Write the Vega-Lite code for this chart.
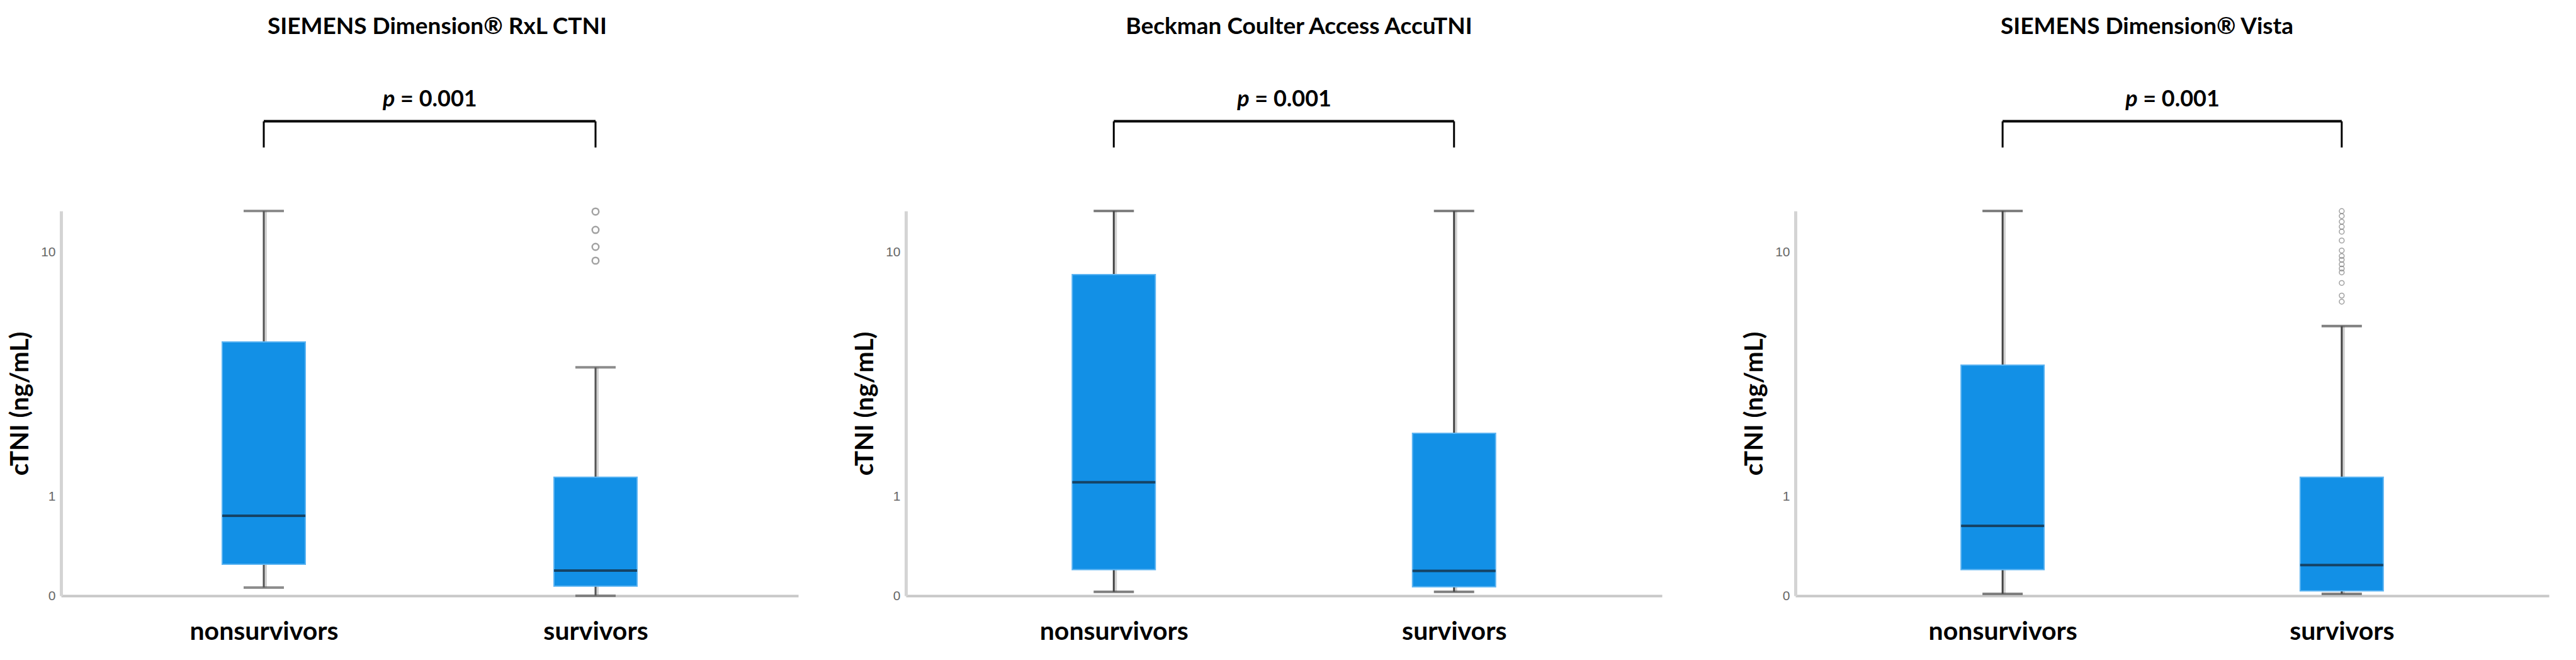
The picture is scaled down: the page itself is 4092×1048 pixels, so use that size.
{
"$schema": "https://vega.github.io/schema/vega-lite/v6.json",
"background": "white",
"padding": {"left": 12, "top": 24, "right": 5, "bottom": 5},
"config": {
  "view": {"stroke": null},
  "font": "Lato",
  "title": {"font": "Lato", "fontSize": 37, "fontWeight": "bold", "color": "#000000", "anchor": "middle", "offset": 78},
  "axisY": {"grid": false, "ticks": false, "tickSize": 0, "domainColor": "#d4d4d4", "domainWidth": 5, "labelFont": "Liberation Sans", "labelFontSize": 21, "labelColor": "#666666", "labelPadding": 9, "titleFont": "Lato", "titleFontSize": 40, "titleFontWeight": "bold", "titleColor": "#000000", "titlePadding": 12},
  "axisX": {"grid": false, "ticks": false, "tickSize": 0, "domainColor": "#c8c8c8", "domainWidth": 4, "labelFont": "Lato", "labelFontSize": 41, "labelFontWeight": "bold", "labelColor": "#000000", "labelPadding": 37, "labelAngle": 0, "labelLimit": 0}
},
"datasets": {
  "boxes": [
    {"assay": "RxL", "group": "nonsurvivors", "lower": 0.059, "q1": 0.246, "median": 0.748, "q3": 4.89, "upper": 13.7},
    {"assay": "RxL", "group": "survivors", "lower": 0.0, "q1": 0.069, "median": 0.193, "q3": 1.29, "upper": 3.93},
    {"assay": "Access", "group": "nonsurvivors", "lower": 0.028, "q1": 0.2, "median": 1.21, "q3": 8.43, "upper": 13.7},
    {"assay": "Access", "group": "survivors", "lower": 0.028, "q1": 0.065, "median": 0.19, "q3": 2.11, "upper": 13.7},
    {"assay": "Vista", "group": "nonsurvivors", "lower": 0.013, "q1": 0.2, "median": 0.63, "q3": 4.01, "upper": 13.7},
    {"assay": "Vista", "group": "survivors", "lower": 0.013, "q1": 0.035, "median": 0.239, "q3": 1.29, "upper": 5.58}
  ],
  "outliers": [
    {"assay": "RxL", "group": "survivors", "value": 13.64},
    {"assay": "RxL", "group": "survivors", "value": 11.88},
    {"assay": "RxL", "group": "survivors", "value": 10.44},
    {"assay": "RxL", "group": "survivors", "value": 9.39},
    {"assay": "Vista", "group": "survivors", "value": 13.69},
    {"assay": "Vista", "group": "survivors", "value": 13.19},
    {"assay": "Vista", "group": "survivors", "value": 12.64},
    {"assay": "Vista", "group": "survivors", "value": 12.17},
    {"assay": "Vista", "group": "survivors", "value": 11.72},
    {"assay": "Vista", "group": "survivors", "value": 10.96},
    {"assay": "Vista", "group": "survivors", "value": 10.15},
    {"assay": "Vista", "group": "survivors", "value": 9.73},
    {"assay": "Vista", "group": "survivors", "value": 9.45},
    {"assay": "Vista", "group": "survivors", "value": 9.13},
    {"assay": "Vista", "group": "survivors", "value": 8.83},
    {"assay": "Vista", "group": "survivors", "value": 8.57},
    {"assay": "Vista", "group": "survivors", "value": 7.89},
    {"assay": "Vista", "group": "survivors", "value": 7.14},
    {"assay": "Vista", "group": "survivors", "value": 6.8}
  ],
  "tests": [
    {"assay": "RxL", "from": "nonsurvivors", "to": "survivors", "label": "= 0.001"},
    {"assay": "Access", "from": "nonsurvivors", "to": "survivors", "label": "= 0.001"},
    {"assay": "Vista", "from": "nonsurvivors", "to": "survivors", "label": "= 0.001"}
  ]
},
"spacing": 127,
"hconcat": [
 {"spacing": 86, "hconcat": [
  {
   "width": 1171, "height": 611,
   "title": {"text": "SIEMENS Dimension® RxL CTNI", "dx": 12},
   "layer": [
    {"data": {"name": "boxes"}, "transform": [{"filter": {"field": "assay", "equal": "RxL"}}],
     "encoding": {"x": {"field": "group", "type": "nominal", "title": null, "scale": {"type": "point", "padding": 0.611, "domain": ["nonsurvivors", "survivors"]}}},
     "layer": [
      {"mark": {"type": "rule", "color": "#d2d2d2", "strokeWidth": 4, "xOffset": 3}, "encoding": {"y": {"field": "lower", "type": "quantitative", "title": "cTNI (ng/mL)", "scale": {"type": "symlog", "constant": 1, "domain": [0, 13.7], "nice": false}, "axis": {"values": [0, 1, 10], "format": "d"}}, "y2": {"field": "upper"}}},
      {"mark": {"type": "rule", "color": "#555555", "strokeWidth": 3}, "encoding": {"y": {"field": "lower", "type": "quantitative", "title": "cTNI (ng/mL)"}, "y2": {"field": "upper"}}},
      {"mark": {"type": "tick", "color": "#5c5c5c", "thickness": 4, "size": 64}, "encoding": {"y": {"field": "lower", "type": "quantitative", "title": "cTNI (ng/mL)"}}},
      {"mark": {"type": "tick", "color": "#5c5c5c", "thickness": 4, "size": 64}, "encoding": {"y": {"field": "upper", "type": "quantitative", "title": "cTNI (ng/mL)"}}},
      {"mark": {"type": "bar", "width": 132, "fill": "#1290e6", "stroke": "#5cb4f2", "strokeWidth": 2}, "encoding": {"y": {"field": "q1", "type": "quantitative", "title": "cTNI (ng/mL)"}, "y2": {"field": "q3"}}},
      {"mark": {"type": "tick", "color": "#17222d", "thickness": 4, "size": 132}, "encoding": {"y": {"field": "median", "type": "quantitative", "title": "cTNI (ng/mL)"}}}
     ]},
    {"data": {"name": "outliers"}, "transform": [{"filter": {"field": "assay", "equal": "RxL"}}],
     "mark": {"type": "point", "shape": "circle", "filled": false, "color": "#7a7a7a", "strokeWidth": 2.5, "size": 110},
     "encoding": {"x": {"field": "group", "type": "nominal", "title": null}, "y": {"field": "value", "type": "quantitative", "title": "cTNI (ng/mL)"}}},
    {"data": {"name": "tests"}, "transform": [{"filter": {"field": "assay", "equal": "RxL"}}],
     "layer": [
      {"mark": {"type": "rule", "color": "#000000", "strokeWidth": 4}, "encoding": {"x": {"field": "from", "type": "nominal", "title": null}, "x2": {"field": "to"}, "y": {"datum": 26.5}}},
      {"mark": {"type": "rule", "color": "#000000", "strokeWidth": 3}, "encoding": {"x": {"field": "from", "type": "nominal", "title": null}, "y": {"datum": 21.9}, "y2": {"datum": 26.5}}},
      {"mark": {"type": "rule", "color": "#000000", "strokeWidth": 3}, "encoding": {"x": {"field": "to", "type": "nominal", "title": null}, "y": {"datum": 21.9}, "y2": {"datum": 26.5}}},
      {"mark": {"type": "text", "font": "Lato", "fontSize": 36, "fontWeight": "bold", "fontStyle": "italic", "align": "left", "baseline": "middle", "dx": 189}, "encoding": {"x": {"field": "from", "type": "nominal", "title": null}, "y": {"datum": 31.0}, "text": {"value": "p"}}},
      {"mark": {"type": "text", "font": "Lato", "fontSize": 36, "fontWeight": "bold", "align": "left", "baseline": "middle", "dx": 217}, "encoding": {"x": {"field": "from", "type": "nominal", "title": null}, "y": {"datum": 31.0}, "text": {"field": "label"}}}
     ]}
   ]
  },
  {
   "width": 1201, "height": 611,
   "title": {"text": "Beckman Coulter Access AccuTNI", "dx": 24},
   "layer": [
    {"data": {"name": "boxes"}, "transform": [{"filter": {"field": "assay", "equal": "Access"}}],
     "encoding": {"x": {"field": "group", "type": "nominal", "title": null, "scale": {"type": "point", "padding": 0.611, "domain": ["nonsurvivors", "survivors"]}}},
     "layer": [
      {"mark": {"type": "rule", "color": "#d2d2d2", "strokeWidth": 4, "xOffset": 3}, "encoding": {"y": {"field": "lower", "type": "quantitative", "title": "cTNI (ng/mL)", "scale": {"type": "symlog", "constant": 1, "domain": [0, 13.7], "nice": false}, "axis": {"values": [0, 1, 10], "format": "d"}}, "y2": {"field": "upper"}}},
      {"mark": {"type": "rule", "color": "#444444", "strokeWidth": 3}, "encoding": {"y": {"field": "lower", "type": "quantitative", "title": "cTNI (ng/mL)"}, "y2": {"field": "upper"}}},
      {"mark": {"type": "tick", "color": "#4a4a4a", "thickness": 4, "size": 64}, "encoding": {"y": {"field": "lower", "type": "quantitative", "title": "cTNI (ng/mL)"}}},
      {"mark": {"type": "tick", "color": "#4a4a4a", "thickness": 4, "size": 64}, "encoding": {"y": {"field": "upper", "type": "quantitative", "title": "cTNI (ng/mL)"}}},
      {"mark": {"type": "bar", "width": 132, "fill": "#1290e6", "stroke": "#5cb4f2", "strokeWidth": 2}, "encoding": {"y": {"field": "q1", "type": "quantitative", "title": "cTNI (ng/mL)"}, "y2": {"field": "q3"}}},
      {"mark": {"type": "tick", "color": "#17222d", "thickness": 4, "size": 132}, "encoding": {"y": {"field": "median", "type": "quantitative", "title": "cTNI (ng/mL)"}}}
     ]},
    {"data": {"name": "tests"}, "transform": [{"filter": {"field": "assay", "equal": "Access"}}],
     "layer": [
      {"mark": {"type": "rule", "color": "#000000", "strokeWidth": 4}, "encoding": {"x": {"field": "from", "type": "nominal", "title": null}, "x2": {"field": "to"}, "y": {"datum": 26.5}}},
      {"mark": {"type": "rule", "color": "#000000", "strokeWidth": 3}, "encoding": {"x": {"field": "from", "type": "nominal", "title": null}, "y": {"datum": 21.9}, "y2": {"datum": 26.5}}},
      {"mark": {"type": "rule", "color": "#000000", "strokeWidth": 3}, "encoding": {"x": {"field": "to", "type": "nominal", "title": null}, "y": {"datum": 21.9}, "y2": {"datum": 26.5}}},
      {"mark": {"type": "text", "font": "Lato", "fontSize": 36, "fontWeight": "bold", "fontStyle": "italic", "align": "left", "baseline": "middle", "dx": 196}, "encoding": {"x": {"field": "from", "type": "nominal", "title": null}, "y": {"datum": 31.0}, "text": {"value": "p"}}},
      {"mark": {"type": "text", "font": "Lato", "fontSize": 36, "fontWeight": "bold", "align": "left", "baseline": "middle", "dx": 224}, "encoding": {"x": {"field": "from", "type": "nominal", "title": null}, "y": {"datum": 31.0}, "text": {"field": "label"}}}
     ]}
   ]
  }
 ]},
 {
   "width": 1197, "height": 611,
   "title": {"text": "SIEMENS Dimension® Vista", "dx": -40},
   "layer": [
    {"data": {"name": "boxes"}, "transform": [{"filter": {"field": "assay", "equal": "Vista"}}],
     "encoding": {"x": {"field": "group", "type": "nominal", "title": null, "scale": {"type": "point", "padding": 0.611, "domain": ["nonsurvivors", "survivors"]}}},
     "layer": [
      {"mark": {"type": "rule", "color": "#d2d2d2", "strokeWidth": 4, "xOffset": 3}, "encoding": {"y": {"field": "lower", "type": "quantitative", "title": "cTNI (ng/mL)", "scale": {"type": "symlog", "constant": 1, "domain": [0, 13.7], "nice": false}, "axis": {"values": [0, 1, 10], "format": "d"}}, "y2": {"field": "upper"}}},
      {"mark": {"type": "rule", "color": "#444444", "strokeWidth": 3}, "encoding": {"y": {"field": "lower", "type": "quantitative", "title": "cTNI (ng/mL)"}, "y2": {"field": "upper"}}},
      {"mark": {"type": "tick", "color": "#4a4a4a", "thickness": 4, "size": 64}, "encoding": {"y": {"field": "lower", "type": "quantitative", "title": "cTNI (ng/mL)"}}},
      {"mark": {"type": "tick", "color": "#4a4a4a", "thickness": 4, "size": 64}, "encoding": {"y": {"field": "upper", "type": "quantitative", "title": "cTNI (ng/mL)"}}},
      {"mark": {"type": "bar", "width": 132, "fill": "#1290e6", "stroke": "#5cb4f2", "strokeWidth": 2}, "encoding": {"y": {"field": "q1", "type": "quantitative", "title": "cTNI (ng/mL)"}, "y2": {"field": "q3"}}},
      {"mark": {"type": "tick", "color": "#17222d", "thickness": 4, "size": 132}, "encoding": {"y": {"field": "median", "type": "quantitative", "title": "cTNI (ng/mL)"}}}
     ]},
    {"data": {"name": "outliers"}, "transform": [{"filter": {"field": "assay", "equal": "Vista"}}],
     "mark": {"type": "point", "shape": "circle", "filled": false, "color": "#7a7a7a", "strokeWidth": 1.5, "size": 60},
     "encoding": {"x": {"field": "group", "type": "nominal", "title": null}, "y": {"field": "value", "type": "quantitative", "title": "cTNI (ng/mL)"}}},
    {"data": {"name": "tests"}, "transform": [{"filter": {"field": "assay", "equal": "Vista"}}],
     "layer": [
      {"mark": {"type": "rule", "color": "#000000", "strokeWidth": 4}, "encoding": {"x": {"field": "from", "type": "nominal", "title": null}, "x2": {"field": "to"}, "y": {"datum": 26.5}}},
      {"mark": {"type": "rule", "color": "#000000", "strokeWidth": 3}, "encoding": {"x": {"field": "from", "type": "nominal", "title": null}, "y": {"datum": 21.9}, "y2": {"datum": 26.5}}},
      {"mark": {"type": "rule", "color": "#000000", "strokeWidth": 3}, "encoding": {"x": {"field": "to", "type": "nominal", "title": null}, "y": {"datum": 21.9}, "y2": {"datum": 26.5}}},
      {"mark": {"type": "text", "font": "Lato", "fontSize": 36, "fontWeight": "bold", "fontStyle": "italic", "align": "left", "baseline": "middle", "dx": 195}, "encoding": {"x": {"field": "from", "type": "nominal", "title": null}, "y": {"datum": 31.0}, "text": {"value": "p"}}},
      {"mark": {"type": "text", "font": "Lato", "fontSize": 36, "fontWeight": "bold", "align": "left", "baseline": "middle", "dx": 223}, "encoding": {"x": {"field": "from", "type": "nominal", "title": null}, "y": {"datum": 31.0}, "text": {"field": "label"}}}
     ]}
   ]
 }
]
}
